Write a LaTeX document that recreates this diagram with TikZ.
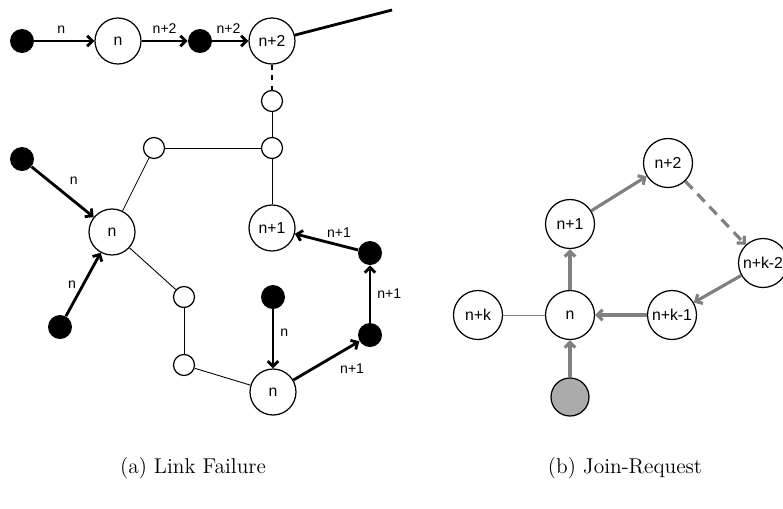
\documentclass[tikz,border=0pt]{standalone}
\usepackage{fontspec}
\setsansfont{Liberation Sans}
\usetikzlibrary{arrows.meta}

\begin{document}
\begin{tikzpicture}[x=0.02cm, y=-0.02cm,
		>={Straight Barb[length=3pt,width=6pt]},
		big/.style={circle, draw, line width=0.7pt, minimum size=0.92cm, inner sep=0pt, font=\sffamily\fontsize{9}{10}\selectfont},
		bigb/.style={big, minimum size=0.98cm},
		small/.style={circle, draw, line width=0.7pt, minimum size=0.42cm, inner sep=0pt},
		dot/.style={circle, fill=black, minimum size=0.48cm, inner sep=0pt},
		greydot/.style={circle, draw, line width=0.7pt, fill=black!33, minimum size=0.76cm, inner sep=0pt},
		msg/.style={->, line width=1.6pt},
		link/.style={line width=0.5pt},
		gmsg/.style={->, line width=1.8pt, black!50},
		lab/.style={font=\sffamily\fontsize{8}{9}\selectfont}]
		\useasboundingbox (0, 0) rectangle (783, 508);

		% (a) ligne du haut
		\node[dot] (a1) at (22, 41) {};
		\node[big] (t1) at (118, 41) {n};
		\node[dot] (a2) at (200, 41) {};
		\node[big] (t2) at (272, 41) {n+2};
		\coordinate (brk) at (392, 10);
		\draw[msg] (a1) -- (t1) node[pos=.45, above, lab] {n};
		\draw[msg] (t1) -- (a2) node[pos=.5, above, lab] {n+2};
		\draw[msg] (a2) -- (t2) node[pos=.45, above, lab] {n+2};
		\draw[line width=1.6pt] (t2) -- (brk);

		% (a) anneau
		\node[small] (s1) at (272, 101) {};
		\node[small] (s2) at (272, 148) {};
		\node[small] (s3) at (154, 148) {};
		\node[big] (n1) at (112, 232) {n};
		\node[small] (s4) at (184, 297) {};
		\node[small] (s5) at (184, 365) {};
		\node[big] (n2) at (273, 392) {n};
		\node[big] (n3) at (272, 228) {n+1};
		\draw[dashed, line width=1pt] (t2) -- (s1);
		\draw[link] (s1) -- (s2);
		\draw[link] (s2) -- (s3);
		\draw[link] (s3) -- (n1);
		\draw[link] (s2) -- (n3);
		\draw[link] (n1) -- (s4);
		\draw[link] (s4) -- (s5);
		\draw[link] (s5) -- (n2);

		% (a) messages
		\node[dot] (b1) at (22, 159) {};
		\node[dot] (b2) at (60, 327) {};
		\node[dot] (b3) at (273, 297) {};
		\node[dot] (b4) at (370, 335) {};
		\node[dot] (b5) at (370, 253) {};
		\draw[msg] (b1) -- (n1) node[pos=.5, above right, lab] {n};
		\draw[msg] (b2) -- (n1) node[pos=.5, left, lab] {n};
		\draw[msg] (b3) -- (n2) node[pos=.4, right, lab] {n};
		\draw[msg] (n2) -- (b4) node[pos=.6, below right, lab] {n+1};
		\draw[msg] (b4) -- (b5) node[pos=.5, right, lab] {n+1};
		\draw[msg] (b5) -- (n3) node[pos=.3, above, lab] {n+1};

		% (b) anneau
		\node[bigb] (r2) at (668, 163) {n+2};
		\node[bigb] (r1) at (570, 224) {n+1};
		\node[bigb] (rk2) at (763, 263) {n+k-2};
		\node[bigb] (rk1) at (672, 315) {n+k-1};
		\node[bigb] (r0) at (570, 315) {n};
		\node[bigb] (rk) at (478, 315) {n+k};
		\node[greydot] (rg) at (570, 397) {};
		\draw[gmsg] (rg) -- (r0);
		\draw[gmsg] (r0) -- (r1);
		\draw[gmsg] (r1) -- (r2);
		\draw[gmsg, dash pattern=on 6pt off 4pt] (r2) -- (rk2);
		\draw[gmsg] (rk2) -- (rk1);
		\draw[gmsg] (rk1) -- (r0);
		\draw[link, black!50] (rk) -- (r0);

		% legendes
		\node[font=\fontsize{12.2}{14}\selectfont] (capa) at (193, 468) {(a) Link Failure};
		\node[font=\fontsize{12.2}{14}\selectfont] (capb) at (625, 468) {(b) Join-Request};
\end{tikzpicture}
\end{document}
